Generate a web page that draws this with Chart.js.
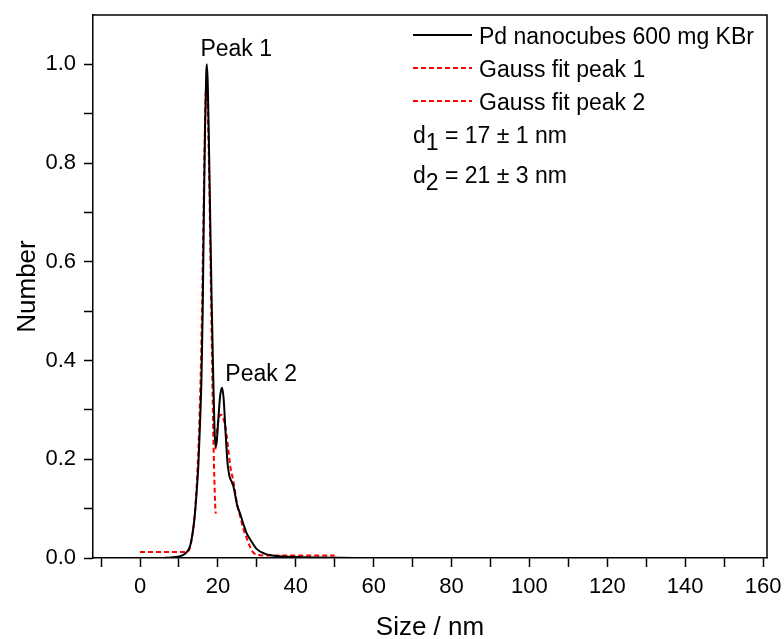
<!DOCTYPE html>
<html>
<head>
<meta charset="utf-8">
<script src="https://cdn.jsdelivr.net/npm/chart.js@4.4.0/dist/chart.umd.min.js"></script>
<style>
  html, body { margin: 0; padding: 0; background: #fff; }
</style>
</head>
<body>
<canvas id="myChart" width="784" height="639"></canvas>
<script>
const sizeMeas = [6, 8, 10, 11, 12, 12.8, 13.5, 14.1, 14.6, 15.0, 15.4, 15.8, 16.1, 16.4, 16.7, 17.0, 17.15, 17.4, 17.7, 18.0, 18.4, 18.8, 19.1, 19.4, 19.7, 20.1, 20.6, 21.1, 21.5, 22.0, 22.5, 23.0, 23.5, 24.0, 24.5, 25.0, 25.7, 26.5, 27.4, 28.5, 30, 32, 35, 40, 45, 55];
const numMeas = [0, 0.001, 0.003, 0.006, 0.012, 0.023, 0.05, 0.09, 0.14, 0.19, 0.27, 0.37, 0.5, 0.7, 0.87, 0.98, 1.0, 0.96, 0.84, 0.7, 0.52, 0.37, 0.27, 0.225, 0.235, 0.28, 0.33, 0.345, 0.32, 0.25, 0.19, 0.165, 0.155, 0.145, 0.125, 0.105, 0.09, 0.07, 0.05, 0.035, 0.018, 0.009, 0.004, 0.002, 0.001, 0];

// Gauss fit, peak 1
const sizeFit1 = [0, 10, 11, 12, 12.8, 13.5, 14.1, 14.7, 15.3, 15.8, 16.2, 16.6, 17.0, 17.3, 17.7, 18.1, 18.5, 18.9, 19.3, 19.45];
const numFit1 = [0.012, 0.012, 0.012, 0.013, 0.02, 0.05, 0.09, 0.17, 0.29, 0.45, 0.64, 0.84, 0.96, 0.93, 0.8, 0.6, 0.4, 0.22, 0.11, 0.09];

// Gauss fit, peak 2
const sizeFit2 = [19.35, 19.8, 20.3, 20.8, 21.3, 22.0, 22.6, 23.2, 24.0, 24.8, 25.7, 26.5, 27.4, 28.3, 29.2, 30.5, 33, 40, 50];
const numFit2 = [0.22, 0.26, 0.285, 0.29, 0.285, 0.262, 0.225, 0.185, 0.155, 0.115, 0.085, 0.06, 0.04, 0.022, 0.01, 0.006, 0.005, 0.005, 0.005];

const seriesNames = ["Pd nanocubes 600 mg KBr", "Gauss fit peak 1", "Gauss fit peak 2"];
const xTicks = [-10, 0, 10, 20, 30, 40, 50, 60, 70, 80, 90, 100, 110, 120, 130, 140, 150, 160];
const yTicks = [0, 0.1, 0.2, 0.3, 0.4, 0.5, 0.6, 0.7, 0.8, 0.9, 1.0];
const peakNotes = [
  { text: "Peak 1", x: 24.7, y: 1.029 },
  { text: "Peak 2", x: 31.1, y: 0.372 },
];
const sizeNotes = [
  { sub: "1", rest: " = 17 ± 1 nm" },
  { sub: "2", rest: " = 21 ± 3 nm" },
];

const FONT = "'Liberation Sans', Arial, sans-serif";
const toPts = (xs, ys) => xs.map((x, i) => ({ x: x, y: ys[i] }));

// Legend, notes and the closed frame
const notesPlugin = {
  id: "notes",
  afterDraw(chart) {
    const ctx = chart.ctx;
    const area = chart.chartArea;
    const xs = chart.scales.x;
    const ys = chart.scales.y;
    ctx.save();

    // top and right frame
    ctx.strokeStyle = "#000";
    ctx.lineWidth = 1.5;
    ctx.beginPath();
    ctx.moveTo(area.left, area.top);
    ctx.lineTo(area.right, area.top);
    ctx.lineTo(area.right, area.bottom);
    ctx.stroke();

    ctx.fillStyle = "#000";
    ctx.font = "23px " + FONT;
    ctx.textAlign = "center";
    ctx.textBaseline = "middle";
    peakNotes.forEach((n) => {
      ctx.fillText(n.text, xs.getPixelForValue(n.x), ys.getPixelForValue(n.y));
    });

    // legend
    ctx.textAlign = "left";
    chart.data.datasets.forEach((ds, i) => {
      const y = 35 + i * 33;
      ctx.strokeStyle = ds.borderColor;
      ctx.lineWidth = ds.borderWidth;
      ctx.setLineDash(ds.borderDash || []);
      ctx.beginPath();
      ctx.moveTo(413, y);
      ctx.lineTo(472, y);
      ctx.stroke();
      ctx.setLineDash([]);
      ctx.fillText(ds.label, 479, y + 3);
    });

    // d1, d2
    ctx.textBaseline = "alphabetic";
    sizeNotes.forEach((n, i) => {
      const base = 143 + i * 40;
      let x = 413;
      ctx.fillText("d", x, base);
      x += ctx.measureText("d").width;
      ctx.fillText(n.sub, x, base + 7);
      x += ctx.measureText(n.sub).width;
      ctx.fillText(n.rest, x, base);
    });
    ctx.restore();
  },
};

var chartdata = document.getElementById("myChart");
var myChart = new Chart(chartdata, {
  type: "scatter",
  data: {
    datasets: [
      {
        label: seriesNames[0],
        data: toPts(sizeMeas, numMeas),
        showLine: true,
        borderColor: "#000000",
        borderWidth: 2,
        pointRadius: 0,
        cubicInterpolationMode: "monotone",
      },
      {
        label: seriesNames[1],
        data: toPts(sizeFit1, numFit1),
        showLine: true,
        borderColor: "#ff0000",
        borderWidth: 2,
        borderDash: [5, 3],
        pointRadius: 0,
        cubicInterpolationMode: "monotone",
      },
      {
        label: seriesNames[2],
        data: toPts(sizeFit2, numFit2),
        showLine: true,
        borderColor: "#ff0000",
        borderWidth: 2,
        borderDash: [5, 3],
        pointRadius: 0,
        cubicInterpolationMode: "monotone",
      },
    ],
  },
  options: {
    responsive: false,
    animation: false,
    layout: { padding: { left: 0, right: 17, top: 15, bottom: 0 } },
    plugins: {
      legend: { display: false },
      tooltip: { enabled: false },
    },
    scales: {
      x: {
        type: "linear",
        min: -12.07,
        max: 161,
        afterBuildTicks: (scale) => {
          scale.ticks = xTicks.map((v) => ({ value: v }));
        },
        afterFit: (scale) => {
          scale.height = 81;
          scale.paddingLeft = 0;
          scale.paddingRight = 0;
        },
        ticks: {
          autoSkip: false,
          maxRotation: 0,
          padding: 7,
          color: "#000",
          font: { family: FONT, size: 22 },
          callback: (v) => (v % 20 === 0 ? String(v) : ""),
        },
        grid: {
          drawOnChartArea: false,
          drawTicks: true,
          tickLength: 9,
          tickColor: "#000",
          tickWidth: 1.5,
        },
        border: { display: true, color: "#000", width: 1.5 },
        title: {
          display: true,
          text: "Size / nm",
          color: "#000",
          font: { family: FONT, size: 26, lineHeight: 0.85 },
          padding: { top: 0, bottom: 0 },
        },
      },
      y: {
        type: "linear",
        min: 0,
        max: 1.1,
        afterBuildTicks: (scale) => {
          scale.ticks = yTicks.map((v) => ({ value: v }));
        },
        afterFit: (scale) => {
          scale.width = 93;
          scale.paddingTop = 0;
          scale.paddingBottom = 0;
        },
        ticks: {
          autoSkip: false,
          padding: 8,
          color: "#000",
          font: { family: FONT, size: 22 },
          callback: (v) => (Math.round(v * 10) % 2 === 0 ? v.toFixed(1) : ""),
        },
        grid: {
          drawOnChartArea: false,
          drawTicks: true,
          tickLength: 9,
          tickColor: "#000",
          tickWidth: 1.5,
        },
        border: { display: true, color: "#000", width: 1.5 },
        title: {
          display: true,
          text: "Number",
          color: "#000",
          font: { family: FONT, size: 26, lineHeight: 1 },
          padding: { top: 15, bottom: 0 },
        },
      },
    },
  },
  plugins: [notesPlugin],
});
</script>
</body>
</html>
